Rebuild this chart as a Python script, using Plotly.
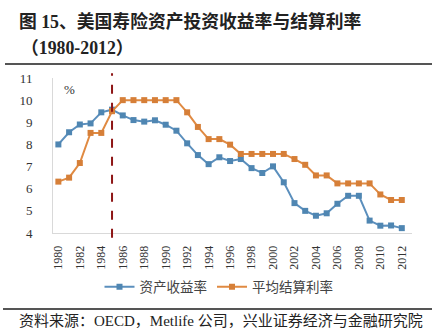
import plotly.graph_objects as go

years = list(range(1980, 2013))
asset_yield = [8.0, 8.55, 8.9, 8.95, 9.45, 9.57, 9.31, 9.1, 9.03, 9.09, 8.89, 8.62, 8.05, 7.52, 7.11,
               7.42, 7.25, 7.34, 6.93, 6.71, 7.01, 6.29, 5.35, 5.0, 4.78, 4.89, 5.32, 5.68, 5.68,
               4.56, 4.33, 4.34, 4.22]
credit_rate = [6.32, 6.5, 7.16, 8.52, 8.52, 9.5, 10.0, 10.0, 10.0, 10.0, 10.0, 10.0, 9.45, 8.79, 8.24,
               8.24, 7.99, 7.57, 7.57, 7.57, 7.57, 7.57, 7.34, 7.08, 6.6, 6.6, 6.24, 6.24, 6.24,
               6.24, 5.74, 5.49, 5.49]
series_names = ["资产收益率", "平均结算利率"]
marker_year = 1985
title_line1 = "图 15、美国寿险资产投资收益率与结算利率"
title_line2 = "（1980-2012）"
source_text = "资料来源：OECD，Metlife 公司，兴业证券经济与金融研究院"

W, H = 442, 328
L, R, T, B = 53, 30, 78, 95
pw, ph = W - L - R, H - T - B

def px(x):
    return (x - L) / pw

def py(y):
    return (H - B - y) / ph

serif = "Liberation Serif, Noto Sans CJK SC"
cjk = "Noto Sans CJK SC"

fig = go.Figure()
fig.add_trace(go.Scatter(x=years, y=asset_yield, name=series_names[0], mode="lines+markers",
                         line=dict(color="#5B8FBD", width=2),
                         marker=dict(symbol="square", size=6, color="#4F86B2")))
fig.add_trace(go.Scatter(x=years, y=credit_rate, name=series_names[1], mode="lines+markers",
                         line=dict(color="#E08A42", width=2),
                         marker=dict(symbol="square", size=6, color="#D67F38")))

fig.add_shape(type="line", xref="x", yref="paper", x0=marker_year, x1=marker_year,
              y0=-0.03, y1=1.03, line=dict(color="#8E1616", width=2, dash="dash"), layer="above")
# rules
fig.add_shape(type="line", xref="paper", yref="paper", x0=px(5), x1=px(432), y0=py(64), y1=py(64),
              line=dict(color="#555555", width=2))
fig.add_shape(type="line", xref="paper", yref="paper", x0=px(3), x1=px(432), y0=py(309), y1=py(309),
              line=dict(color="#555555", width=2))

fig.add_annotation(text="<b>" + title_line1 + "</b>", xref="paper", yref="paper", x=px(17), y=py(21),
                   xanchor="left", yanchor="middle", showarrow=False,
                   font=dict(family=serif, size=17.8, color="#222222"))
fig.add_annotation(text="<b>" + title_line2 + "</b>", xref="paper", yref="paper", x=px(19), y=py(48),
                   xanchor="left", yanchor="middle", showarrow=False,
                   font=dict(family=serif, size=17.8, color="#222222"))
fig.add_annotation(text="%", xref="paper", yref="paper", x=px(69), y=py(89),
                   xanchor="center", yanchor="middle", showarrow=False,
                   font=dict(family=serif, size=13, color="#333333"))
fig.add_annotation(text=source_text, xref="paper", yref="paper", x=px(17), y=py(320),
                   xanchor="left", yanchor="middle", showarrow=False,
                   font=dict(family=serif, size=15, color="#222222"))

fig.update_layout(
    width=W, height=H, margin=dict(l=L, r=R, t=T, b=B),
    paper_bgcolor="white", plot_bgcolor="white",
    showlegend=True,
    legend=dict(orientation="h", x=px(219), y=py(287), xanchor="center", yanchor="middle",
                font=dict(family=cjk, size=13.5, color="#444444"), itemwidth=30,
                bgcolor="rgba(0,0,0,0)"),
    xaxis=dict(range=[1979.5, 2012.95], tick0=1980, dtick=2, tickangle=-90,
               showgrid=False, zeroline=False, showline=True, linecolor="#D9D9D9", linewidth=1,
               ticks="outside", ticklen=0, ticklabelstandoff=7,
               tickfont=dict(family=serif, size=12, color="#333333")),
    yaxis=dict(range=[4, 11], dtick=1, showgrid=False, zeroline=False, showline=True,
               linecolor="#D9D9D9", linewidth=1, ticks="outside", ticklen=0, ticklabelstandoff=17,
               tickfont=dict(family=serif, size=13, color="#333333")),
)

fig.write_html("out.html")
